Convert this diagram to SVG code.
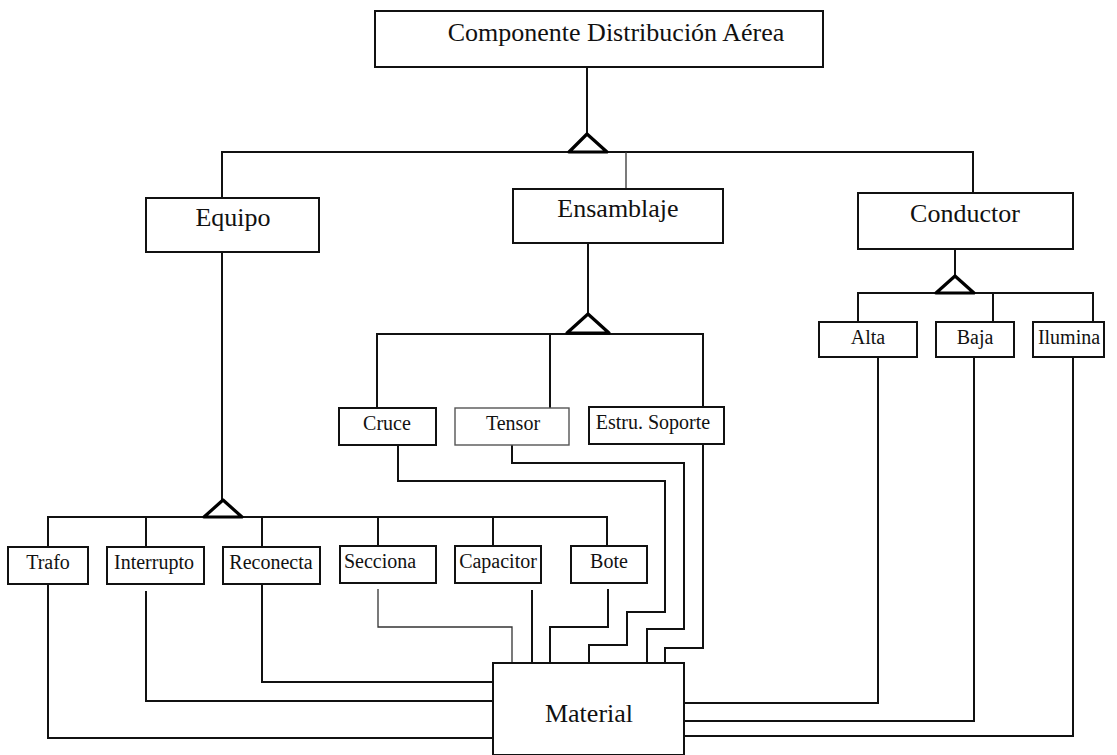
<svg xmlns="http://www.w3.org/2000/svg" width="1117" height="755" viewBox="0 0 1117 755">
  <style>
    .box { fill: #fff; stroke: #111; stroke-width: 2; }
    .lbl { font-family: "Liberation Serif", "Times New Roman", serif; fill: #111; text-anchor: middle; }
    .big { font-size: 26px; }
    .small { font-size: 20px; }
    .wire { fill: none; stroke: #111; stroke-width: 2; }
    .thin { fill: none; stroke: #333; stroke-width: 1.3; }
    .tri { fill: #fff; stroke: #000; stroke-width: 3.2; stroke-linejoin: round; }
  </style>
  <rect width="1117" height="755" fill="#fff"/>

  <!-- connectors -->
  <g id="connectors">
    <!-- root generalization -->
    <path class="wire" d="M587 67 V134"/>
    <path class="wire" d="M222 198 V152 H973 V193"/>
    <path class="thin" d="M626 152 V189"/>
    <!-- Equipo generalization -->
    <path class="wire" d="M222 252 V500"/>
    <path class="wire" d="M48 547 V517 H607 V547"/>
    <path class="wire" d="M146 517 V547 M262 517 V575 M378 517 V547 M493 517 V547"/>
    <!-- Ensamblaje generalization -->
    <path class="wire" d="M588 243 V314"/>
    <path class="wire" d="M377 408 V334 H703 V407"/>
    <path class="wire" d="M550 334 V408"/>
    <!-- Conductor generalization -->
    <path class="wire" d="M955 249 V276"/>
    <path class="wire" d="M858 322 V293 H1093 V322"/>
    <path class="wire" d="M993 293 V328"/>
    <!-- links to Material -->
    <path class="wire" d="M48 574 V738 H493"/>
    <path class="wire" d="M146 591 V701 H493"/>
    <path class="wire" d="M262 584 V682 H493"/>
    <path class="thin" d="M378 589 V627 H512 V663"/>
    <path class="wire" d="M532 590 V663"/>
    <path class="wire" d="M608 589 V627 H550 V663"/>
    <path class="wire" d="M398 445 V481 H665 V612 H627 V645 H589 V663"/>
    <path class="wire" d="M512 442 V463 H684 V629 H647 V663"/>
    <path class="wire" d="M703 444 V648 H665 V663"/>
    <path class="wire" d="M878 349 V703 H684"/>
    <path class="wire" d="M974 349 V721 H684"/>
    <path class="wire" d="M1073 349 V736 H684"/>
    <!-- inheritance triangles -->
    <path class="tri" d="M587 134 L607 152 H569 Z"/>
    <path class="tri" d="M223 500 L242 517 H204 Z"/>
    <path class="tri" d="M588 314 L609 333 H567 Z"/>
    <path class="tri" d="M955 276 L974 293 H936 Z"/>
  </g>

  <g id="componente">
    <rect class="box" x="375" y="11" width="448" height="56"/>
    <text class="lbl big" x="616" y="41">Componente Distribución Aérea</text>
  </g>
  <g id="equipo">
    <rect class="box" x="146" y="198" width="173" height="54"/>
    <text class="lbl big" x="233" y="226">Equipo</text>
  </g>
  <g id="ensamblaje">
    <rect class="box" x="513" y="189" width="210" height="54"/>
    <text class="lbl big" x="618" y="217">Ensamblaje</text>
  </g>
  <g id="conductor">
    <rect class="box" x="858" y="193" width="215" height="56"/>
    <text class="lbl big" x="965" y="222">Conductor</text>
  </g>

  <g id="alta">
    <rect class="box" x="819" y="322" width="98" height="35"/>
    <text class="lbl small" x="868" y="344">Alta</text>
  </g>
  <g id="baja">
    <rect class="box" x="936" y="322" width="78" height="35"/>
    <text class="lbl small" x="975" y="344">Baja</text>
  </g>
  <g id="ilumina">
    <rect class="box" x="1033" y="322" width="71" height="35"/>
    <text class="lbl small" x="1069" y="344">Ilumina</text>
  </g>

  <g id="cruce">
    <rect class="box" x="339" y="408" width="97" height="37"/>
    <text class="lbl small" x="387" y="430">Cruce</text>
  </g>
  <g id="tensor">
    <rect class="box" x="455" y="408" width="114" height="37" style="stroke:#555;stroke-width:1.4"/>
    <text class="lbl small" x="513" y="430">Tensor</text>
  </g>
  <g id="estru-soporte">
    <rect class="box" x="589" y="407" width="135" height="37"/>
    <text class="lbl small" x="653" y="429">Estru. Soporte</text>
  </g>

  <g id="trafo">
    <rect class="box" x="8" y="547" width="80" height="37"/>
    <text class="lbl small" x="48" y="569">Trafo</text>
  </g>
  <g id="interrupto">
    <rect class="box" x="107" y="547" width="97" height="37"/>
    <text class="lbl small" x="154" y="569">Interrupto</text>
  </g>
  <g id="reconecta">
    <rect class="box" x="223" y="547" width="97" height="37"/>
    <text class="lbl small" x="271" y="569">Reconecta</text>
  </g>
  <g id="secciona">
    <rect class="box" x="340" y="546" width="96" height="37"/>
    <text class="lbl small" x="380" y="568">Secciona</text>
  </g>
  <g id="capacitor">
    <rect class="box" x="455" y="546" width="86" height="37"/>
    <text class="lbl small" x="498" y="568">Capacitor</text>
  </g>
  <g id="bote">
    <rect class="box" x="571" y="546" width="76" height="37"/>
    <text class="lbl small" x="609" y="568">Bote</text>
  </g>

  <g id="material">
    <rect class="box" x="493" y="663" width="191" height="92"/>
    <text class="lbl big" x="589" y="722">Material</text>
  </g>
</svg>
